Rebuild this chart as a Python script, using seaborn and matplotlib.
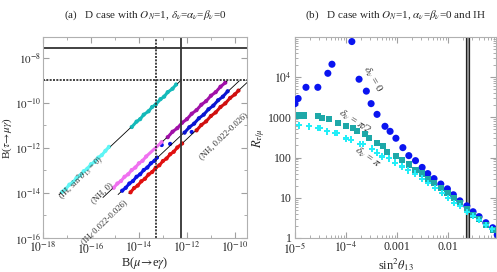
import numpy as np
import pandas as pd
import matplotlib
matplotlib.use("Agg")
import matplotlib.pyplot as plt
import matplotlib.ticker as mticker
import seaborn as sns

# ---- panel (a): log10 values of B(mu->e gamma) and B(tau->mu gamma)
cyan_lo_x = [-17.2, -17.05, -16.9, -16.75, -16.6, -16.45, -16.3, -16.15, -16.0, -15.85, -15.7, -15.55, -15.4, -15.25]
cyan_lo_y = [-13.95, -13.82, -13.63, -13.52, -13.33, -13.22, -13.03, -12.92, -12.72, -12.62, -12.43, -12.32, -12.13, -11.95]
cyan_hi_x = [-14.3, -14.1, -13.95, -13.8, -13.6, -13.45, -13.3, -13.1, -12.95, -12.8, -12.6, -12.45]
cyan_hi_y = [-11.07, -10.83, -10.72, -10.52, -10.37, -10.18, -10.07, -9.83, -9.72, -9.52, -9.37, -9.18]
mag_lo_x = [-15.05, -14.9, -14.75, -14.6, -14.45, -14.3, -14.15, -14.0, -13.85, -13.7, -13.05]
mag_lo_y = [-13.77, -13.58, -13.47, -13.28, -13.17, -12.98, -12.87, -12.68, -12.57, -12.38, -11.74]
pur_hi_x = [-12.8, -12.6, -12.4, -12.2, -12.0, -11.8, -11.6, -11.4, -11.2, -11.0, -10.8, -10.6, -10.4]
pur_hi_y = [-11.52, -11.28, -11.12, -10.88, -10.72, -10.48, -10.32, -10.08, -9.92, -9.68, -9.52, -9.28, -9.1]
blue_lo_x = [-14.7, -14.55, -14.4, -14.25, -14.1, -13.95, -13.8, -13.65, -13.5, -13.35, -13.25]
blue_lo_y = [-13.9, -13.77, -13.58, -13.47, -13.28, -13.17, -12.98, -12.87, -12.68, -12.57, -12.43]
blue_sc_x = [-13.05, -12.7, -11.8]
blue_sc_y = [-11.87, -11.82, -11.29]
blue_hi_x = [-12.1, -11.9, -11.7, -11.5, -11.3, -11.1, -10.9, -10.7, -10.5, -10.3]
blue_hi_y = [-11.32, -11.08, -10.92, -10.68, -10.52, -10.28, -10.12, -9.88, -9.72, -9.48]
red_lo_x = [-14.35, -14.2, -14.05, -13.9, -13.75, -13.6, -13.45, -13.3, -13.15, -13.0, -12.85, -12.7, -12.55, -12.4, -12.2]
red_lo_y = [-13.97, -13.78, -13.67, -13.48, -13.37, -13.18, -13.07, -12.88, -12.77, -12.58, -12.47, -12.28, -12.17, -11.98, -11.8]
red_hi_x = [-11.6, -11.4, -11.2, -11.0, -10.8, -10.6, -10.4, -10.2, -10.0, -9.85]
red_hi_y = [-11.22, -10.98, -10.82, -10.58, -10.42, -10.18, -10.02, -9.78, -9.62, -9.45]

# guide lines (start, end) in log10
line_x = [[-17.33, -12.27], [-15.5, -10.32], [-14.87, -9.82], [-14.42, -9.42]]
line_y = [[-14.08, -9.02], [-14.2, -9.02], [-14.07, -9.02], [-14.02, -9.02]]

lim_meg, lim_meg2 = 5.7e-13, 5e-14
lim_tau, lim_tau2 = 2.8e-8, 1e-9

# ---- panel (b): sin^2 theta13 vs R_tau/mu
d0_x = [1.0e-5, 1.15e-5, 1.64e-5, 2.8e-5, 4.4e-5, 5.3e-5, 1.3e-4, 1.8e-4, 2.5e-4, 3.1e-4, 4.05e-4, 5.8e-4,
        7.3e-4, 9.5e-4, 1.3e-3, 1.7e-3, 2.3e-3, 3.1e-3, 4.0e-3, 5.3e-3, 7.2e-3, 9.7e-3, 0.0127, 0.017,
        0.0233, 0.0309, 0.0405, 0.055, 0.075, 0.092]
d0_y = [2200, 2950, 5600, 5600, 12500, 21000, 77000, 8900, 4500, 2200, 1190, 600,
        450, 303, 177, 112, 84, 57, 40, 30, 22, 16.7, 11.9, 8.4,
        6.3, 4.5, 3.4, 2.4, 1.8, 1.2]
dpi2_x = [1.2e-5, 1.5e-5, 2.8e-5, 3.4e-5, 4.6e-5, 7.0e-5, 1.0e-4, 1.37e-4, 1.65e-4, 2.35e-4, 2.8e-4,
          4.05e-4, 5.3e-4, 6.3e-4, 9.5e-4, 1.25e-3, 1.7e-3, 2.3e-3, 3.1e-3, 4.0e-3, 5.3e-3, 7.2e-3,
          9.7e-3, 0.013, 0.017, 0.0233, 0.031, 0.0405, 0.055, 0.075]
dpi2_y = [1120, 1120, 1060, 945, 900, 710, 600, 535, 460, 380, 303,
          235, 198, 140, 112, 89, 67, 50, 40, 30, 23, 17.6,
          13, 10, 7.3, 5.2, 3.7, 2.95, 2.1, 1.6]
dpi_x = [1.2e-5, 1.9e-5, 2.8e-5, 3.1e-5, 4.2e-5, 6.1e-5, 6.6e-5, 1.0e-4, 1.25e-4, 1.9e-4, 2.15e-4,
         3.2e-4, 4.05e-4, 5.1e-4, 6.9e-4, 9.1e-4, 1.25e-3, 1.63e-3, 2.25e-3, 3.1e-3, 4.05e-3,
         5.5e-3, 7.6e-3, 0.010, 0.0131, 0.0172, 0.0233, 0.031, 0.0405, 0.055, 0.0725]
dpi_y = [635, 600, 540, 540, 450, 410, 410, 300, 278, 220, 220,
         167, 133, 106, 96, 75, 60, 48, 40, 30, 23.4,
         17.6, 13.3, 10, 7.5, 6.2, 4.4, 3.5, 2.8, 2.1, 1.67]
s13_band = [0.022, 0.026]

sns.set_style("ticks")
plt.rcParams["font.family"] = ["Liberation Serif", "DejaVu Serif"]
plt.rcParams["mathtext.fontset"] = "stix"

fig = plt.figure(figsize=(4.97, 2.72), dpi=100)
ax1 = fig.add_axes([0.0865, 0.125, 0.4105, 0.739])
ax2 = fig.add_axes([0.5936, 0.125, 0.4044, 0.739])

# panel (a)
for xs, ys in zip(line_x, line_y):
    sns.lineplot(x=10.0 ** np.array(xs), y=10.0 ** np.array(ys), ax=ax1, color="black", lw=0.6)

clusters = [
    (cyan_lo_x, cyan_lo_y, "#5ff5f5", True),
    (cyan_hi_x, cyan_hi_y, "#14baba", True),
    (mag_lo_x, mag_lo_y, "#f070f0", True),
    (pur_hi_x, pur_hi_y, "#a010a8", True),
    (blue_lo_x, blue_lo_y, "#0a14e6", True),
    (blue_sc_x, blue_sc_y, "#0a14e6", False),
    (blue_hi_x, blue_hi_y, "#0a14d0", True),
    (red_lo_x, red_lo_y, "#e01010", True),
    (red_hi_x, red_hi_y, "#d01010", True),
]
for xs, ys, c, band in clusters:
    df = pd.DataFrame({"x": 10.0 ** np.array(xs), "y": 10.0 ** np.array(ys)})
    if band:
        sns.lineplot(data=df, x="x", y="y", ax=ax1, color=c, lw=2.2, sort=False)
    sns.scatterplot(data=df, x="x", y="y", ax=ax1, color=c, s=9, edgecolor="none")

ax1.axhline(lim_tau, color="#333333", lw=1.3)
ax1.axhline(lim_tau2, color="#222222", lw=1.2, ls=(0, (1.2, 0.8)))
ax1.axvline(lim_meg, color="#333333", lw=1.3)
ax1.axvline(lim_meg2, color="#222222", lw=1.2, ls=(0, (1.2, 0.8)))

ax1.set_xscale("log")
ax1.set_yscale("log")
ax1.set_xlim(1e-18, 3.2e-10)
ax1.set_ylim(1e-16, 8.5e-8)
ax1.xaxis.set_major_locator(mticker.FixedLocator([1e-18, 1e-16, 1e-14, 1e-12, 1e-10]))
ax1.yaxis.set_major_locator(mticker.FixedLocator([1e-16, 1e-14, 1e-12, 1e-10, 1e-8]))
ax1.xaxis.set_major_formatter(mticker.FixedFormatter(
    [r"$10^{-18}$", r"$10^{-16}$", r"$10^{-14}$", r"$10^{-12}$", r"$10^{-10}$"]))
ax1.yaxis.set_major_formatter(mticker.FixedFormatter(
    [r"$10^{-16}$", r"$10^{-14}$", r"$10^{-12}$", r"$10^{-10}$", r"$10^{-8}$"]))
ax1.xaxis.set_minor_locator(mticker.FixedLocator([1e-17, 1e-15, 1e-13, 1e-11]))
ax1.yaxis.set_minor_locator(mticker.FixedLocator([1e-15, 1e-13, 1e-11, 1e-9]))
ax1.set_xlabel(r"B($\mu\!\rightarrow\!$e$\gamma$)", fontsize=9)
ax1.set_ylabel(r"B($\tau\!\rightarrow\!\mu\gamma$)", fontsize=8)
ax1.xaxis.set_label_coords(0.5, -0.085)
ax1.yaxis.set_label_coords(-0.14, 0.5)
ax1.set_title(r"(a)   D case with $O_N$=1, $\delta_\nu$=$\alpha_\nu$=$\beta_\nu$=0", fontsize=8, pad=14)

lab_kw = dict(fontsize=6.2, rotation=44, ha="center", va="center", color="#333333")
ax1.text(4.2e-17, 4.5e-14, r"(IH, sin$^2\theta_{13}$ = 0)", **lab_kw)
ax1.text(3.0e-16, 1.0e-14, "(NH, 0)", **lab_kw)
ax1.text(3.6e-16, 5.2e-16, "(IH, 0.022-0.026)", **lab_kw)
ax1.text(3.2e-11, 3.3e-12, "(NH, 0.022-0.026)", **lab_kw)

# panel (b)
ax2.axvspan(s13_band[0], s13_band[1], color="#999999", lw=0)
ax2.axvline(s13_band[0], color="#222222", lw=0.9)
ax2.axvline(s13_band[1], color="#222222", lw=0.9)

sns.scatterplot(x=d0_x, y=d0_y, ax=ax2, color="#0a14f0", s=26, marker="o", edgecolor="none", zorder=3)
sns.scatterplot(x=dpi2_x, y=dpi2_y, ax=ax2, color="#1ea8a8", s=20, marker="s", edgecolor="none", zorder=4)
sns.scatterplot(x=dpi_x, y=dpi_y, ax=ax2, color="#22eef8", s=22, marker="P", edgecolor="none", zorder=5)

ax2.set_xscale("log")
ax2.set_yscale("log")
ax2.set_xlim(1e-5, 0.087)
ax2.set_ylim(1, 1e5)
ax2.xaxis.set_major_locator(mticker.FixedLocator([1e-5, 1e-4, 1e-3, 1e-2]))
ax2.xaxis.set_major_formatter(mticker.FixedFormatter([r"$10^{-5}$", r"$10^{-4}$", "0.001", "0.01"]))
ax2.yaxis.set_major_locator(mticker.FixedLocator([1, 10, 100, 1000, 1e4]))
ax2.yaxis.set_major_formatter(mticker.FixedFormatter(["1", "10", "100", "1000", r"$10^4$"]))
ax2.set_xlabel(r"sin$^2\theta_{13}$", fontsize=9)
ax2.set_ylabel(r"$R_{\tau/\mu}$", fontsize=9)
ax2.xaxis.set_label_coords(0.5, -0.09)
ax2.yaxis.set_label_coords(-0.14, 0.5)
ax2.set_title(r"(b)   D case with $O_N$=1, $\alpha_\nu$=$\beta_\nu$=0 and IH", fontsize=8, pad=14)

ann_kw = dict(fontsize=8, ha="center", va="center", color="#333333")
ax2.text(3.3e-4, 9000, r"$\delta_\nu$ = 0", rotation=-60, **ann_kw)
ax2.text(1.5e-4, 800, r"$\delta_\nu$ = $\pi$/2", rotation=-33, **ann_kw)
ax2.text(2.6e-4, 100, r"$\delta_\nu$ = $\pi$", rotation=-35, **ann_kw)

for ax in (ax1, ax2):
    ax.xaxis.set_minor_formatter(mticker.NullFormatter())
    ax.yaxis.set_minor_formatter(mticker.NullFormatter())
    for sp in ax.spines.values():
        sp.set_color("#b0b0b0")
        sp.set_linewidth(0.8)
    ax.tick_params(which="both", direction="in", top=True, right=True, color="#a0a0a0",
                   labelsize=8.5, pad=2)
    ax.tick_params(which="major", length=4)
    ax.tick_params(which="minor", length=2)
ax1.tick_params(axis="y", labelsize=8, pad=1.5)

fig.savefig("out.png", dpi=100)
